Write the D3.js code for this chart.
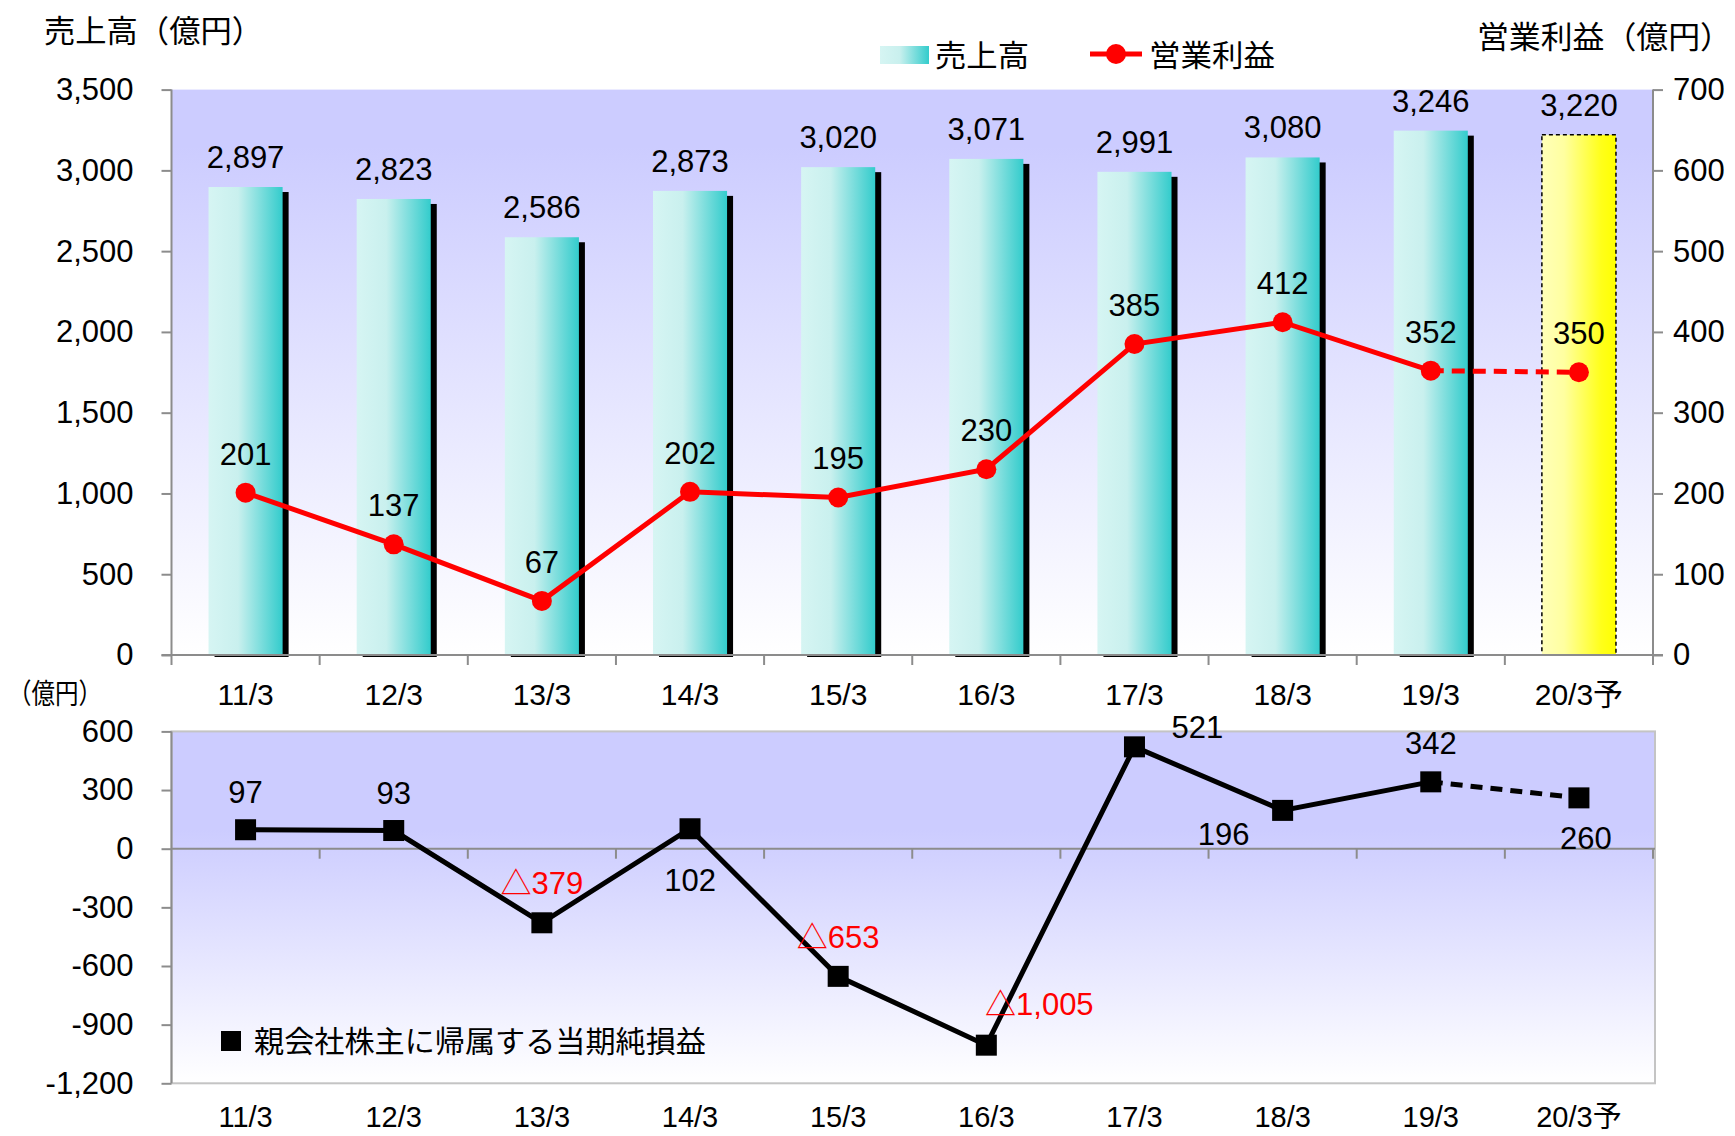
<!DOCTYPE html>
<html><head><meta charset="utf-8">
<script src="https://cdn.jsdelivr.net/npm/d3@7"></script>
<style>
html,body{margin:0;padding:0;background:#fff;}
svg{display:block;}
text{font-family:"Liberation Sans","Noto Sans CJK JP",sans-serif;fill:#000;}
.jp{font-family:"Noto Sans CJK JP","Liberation Sans",sans-serif;}
</style></head>
<body>
<svg id="chart" width="1735" height="1136"></svg>
<script>
// ---- data ----
const categories = ['11/3','12/3','13/3','14/3','15/3','16/3','17/3','18/3','19/3','20/3予'];
const sales      = [2897, 2823, 2586, 2873, 3020, 3071, 2991, 3080, 3246, 3220];
const opProfit   = [201, 137, 67, 202, 195, 230, 385, 412, 352, 350];
const netIncome  = [97, 93, -379, 102, -653, -1005, 521, 196, 342, 260];
const forecast   = [false,false,false,false,false,false,false,false,false,true];
const salesTicks = [0, 500, 1000, 1500, 2000, 2500, 3000, 3500];
const opTicks    = [0, 100, 200, 300, 400, 500, 600, 700];
const netTicks   = [-1200, -900, -600, -300, 0, 300, 600];

// layout for net-income labels (dx, dy baseline)
const netLabelOffsets = [[0,-27],[0,-27],[0,-29],[0,62],[0,-28],[53,-30],[63,-9],[-59,35],[0,-28],[7,51]];

const fmt = d3.formatLocale({decimal:".", thousands:",", grouping:[3], currency:["",""], minus:"-"}).format(",");

const svg = d3.select('#chart');
const defs = svg.append('defs');

function vgrad(id, stops){
  const g = defs.append('linearGradient').attr('id',id).attr('x1',0).attr('y1',0).attr('x2',0).attr('y2',1);
  stops.forEach(s=>g.append('stop').attr('offset',s[0]).attr('stop-color',s[1]));
}
function hgrad(id, stops){
  const g = defs.append('linearGradient').attr('id',id).attr('x1',0).attr('y1',0).attr('x2',1).attr('y2',0);
  stops.forEach(s=>g.append('stop').attr('offset',s[0]).attr('stop-color',s[1]));
}
vgrad('bgTop', [[0,'#ccccff'],[0.1,'#ccccff'],[1,'#ffffff']]);
vgrad('bgBot', [[0,'#ccccff'],[0.28,'#ccccff'],[1,'#ffffff']]);
hgrad('barG', [[0,'#d6f5f3'],[0.4,'#c9f0ee'],[1,'#33cccc']]);
hgrad('barY', [[0,'#ffffb8'],[0.3,'#ffffa0'],[0.8,'#ffff1a'],[1,'#ffff00']]);

const L = 171.5, R = 1653;
const topT = 89.6, topB = 655;
const botT = 731.4, botB = 1083.3, botR = 1655;
const axisColor = '#8c8c8c';

const x = d3.scaleBand().domain(categories).range([L, R]).paddingInner(0).paddingOuter(0);
const bw = x.bandwidth();
const cx = c => x(c) + bw/2;

const ySales = d3.scaleLinear().domain([0,3500]).range([topB, topT]);
const yOp    = d3.scaleLinear().domain([0,700]).range([topB, topT]);
const yNet   = d3.scaleLinear().domain([-1200,600]).range([botB, botT]);

// ---------- upper chart ----------
svg.append('rect').attr('x',L).attr('y',topT).attr('width',R-L).attr('height',topB-topT).attr('fill','url(#bgTop)');

const bars = svg.append('g');
categories.forEach((c,i)=>{
  const bx = x(c) + bw*0.25, w = bw*0.5, by = ySales(sales[i]);
  if(!forecast[i]){
    bars.append('rect').attr('x',bx+6).attr('y',by+5).attr('width',w).attr('height',topB-by-3).attr('fill','#000');
    bars.append('rect').attr('x',bx).attr('y',by).attr('width',w).attr('height',topB-by).attr('fill','url(#barG)');
  } else {
    bars.append('rect').attr('x',bx).attr('y',by).attr('width',w).attr('height',topB-by)
      .attr('fill','url(#barY)').attr('stroke','#000').attr('stroke-width',1.5).attr('stroke-dasharray','4,3');
  }
  bars.append('text').attr('x',cx(c)).attr('y',by-19).attr('text-anchor','middle').attr('font-size',31).text(fmt(sales[i]));
});

// axes upper
const gl = svg.append('g').attr('transform',`translate(${L},0)`)
  .call(d3.axisLeft(ySales).tickValues(salesTicks).tickFormat(fmt).tickSize(10).tickPadding(28));
const gr = svg.append('g').attr('transform',`translate(${R},0)`)
  .call(d3.axisRight(yOp).tickValues(opTicks).tickFormat(fmt).tickSize(10).tickPadding(10));
[gl,gr].forEach(g=>{
  g.select('.domain').attr('stroke',axisColor).attr('stroke-width',2).attr('d', `M0,${topT}V${topB}`);
  g.selectAll('.tick line').attr('stroke',axisColor).attr('stroke-width',2);
  g.selectAll('.tick text').attr('font-size',31).attr('font-family','Liberation Sans').attr('fill','#000');
});
// bottom axis upper
svg.append('line').attr('x1',L-10).attr('x2',R+10).attr('y1',topB).attr('y2',topB).attr('stroke',axisColor).attr('stroke-width',2);
const bounds = categories.map(c=>x(c)).concat([R]);
svg.append('g').selectAll('line').data(bounds).join('line')
  .attr('x1',d=>d).attr('x2',d=>d).attr('y1',topB).attr('y2',topB+10).attr('stroke',axisColor).attr('stroke-width',2);
svg.append('g').selectAll('text').data(categories).join('text')
  .attr('x',d=>cx(d)).attr('y',705).attr('text-anchor','middle').attr('font-size',30).text(d=>d);

// op profit line
const pts = categories.map((c,i)=>[cx(c), yOp(opProfit[i])]);
const line = d3.line();
svg.append('path').attr('d', line(pts.slice(0,9))).attr('fill','none').attr('stroke','#ff0000').attr('stroke-width',5);
svg.append('path').attr('d', line(pts.slice(8,10))).attr('fill','none').attr('stroke','#ff0000').attr('stroke-width',5).attr('stroke-dasharray','13,8');
svg.append('g').selectAll('circle').data(pts).join('circle')
  .attr('cx',d=>d[0]).attr('cy',d=>d[1]).attr('r',10).attr('fill','#ff0000');
svg.append('g').selectAll('text').data(pts).join('text')
  .attr('x',d=>d[0]).attr('y',d=>d[1]-28).attr('text-anchor','middle').attr('font-size',31)
  .text((d,i)=>fmt(opProfit[i]));

// titles & legend
svg.append('text').attr('class','jp').attr('x',44).attr('y',42).attr('font-size',31)
  .attr('textLength',219).attr('lengthAdjust','spacingAndGlyphs').text('売上高（億円）');
svg.append('text').attr('class','jp').attr('x',1477).attr('y',48).attr('font-size',31)
  .attr('textLength',255).attr('lengthAdjust','spacingAndGlyphs').text('営業利益（億円）');
svg.append('rect').attr('x',880).attr('y',46).attr('width',49).attr('height',18).attr('fill','url(#barG)');
svg.append('text').attr('class','jp').attr('x',935).attr('y',66).attr('font-size',30)
  .attr('textLength',94).attr('lengthAdjust','spacingAndGlyphs').text('売上高');
svg.append('line').attr('x1',1090).attr('x2',1142).attr('y1',54).attr('y2',54).attr('stroke','#ff0000').attr('stroke-width',5);
svg.append('circle').attr('cx',1116).attr('cy',54).attr('r',10).attr('fill','#ff0000');
svg.append('text').attr('class','jp').attr('x',1149).attr('y',66).attr('font-size',30)
  .attr('textLength',126).attr('lengthAdjust','spacingAndGlyphs').text('営業利益');

// ---------- lower chart ----------
svg.append('rect').attr('x',L).attr('y',botT).attr('width',botR-L).attr('height',botB-botT)
  .attr('fill','url(#bgBot)').attr('stroke','#c4c4c4').attr('stroke-width',2);
const gn = svg.append('g').attr('transform',`translate(${L},0)`)
  .call(d3.axisLeft(yNet).tickValues(netTicks).tickFormat(fmt).tickSize(10).tickPadding(28));
gn.select('.domain').attr('stroke',axisColor).attr('stroke-width',2).attr('d',`M0,${botT}V${botB}`);
gn.selectAll('.tick line').attr('stroke',axisColor).attr('stroke-width',2);
gn.selectAll('.tick text').attr('font-size',31).attr('font-family','Liberation Sans').attr('fill','#000');

const y0 = yNet(0);
svg.append('line').attr('x1',L).attr('x2',botR).attr('y1',y0).attr('y2',y0).attr('stroke',axisColor).attr('stroke-width',2);
svg.append('g').selectAll('line').data(bounds.slice(1)).join('line')
  .attr('x1',d=>d).attr('x2',d=>d).attr('y1',y0).attr('y2',y0+10).attr('stroke',axisColor).attr('stroke-width',2);

svg.append('text').attr('class','jp').attr('x',8).attr('y',704).attr('font-size',28)
  .attr('textLength',94).attr('lengthAdjust','spacingAndGlyphs').text('（億円）');

const npts = categories.map((c,i)=>[cx(c), yNet(netIncome[i])]);
svg.append('path').attr('d', line(npts.slice(0,9))).attr('fill','none').attr('stroke','#000').attr('stroke-width',5);
svg.append('path').attr('d', line(npts.slice(8,10))).attr('fill','none').attr('stroke','#000').attr('stroke-width',5).attr('stroke-dasharray','12,8');
svg.append('g').selectAll('rect').data(npts).join('rect')
  .attr('x',d=>d[0]-10.5).attr('y',d=>d[1]-10.5).attr('width',21).attr('height',21).attr('fill','#000');
svg.append('g').selectAll('text').data(npts).join('text')
  .attr('x',(d,i)=>d[0]+netLabelOffsets[i][0]).attr('y',(d,i)=>d[1]+netLabelOffsets[i][1])
  .attr('text-anchor','middle').attr('font-size',31)
  .attr('fill',(d,i)=>netIncome[i]<0?'#ff0000':'#000')
  .style('fill',(d,i)=>netIncome[i]<0?'#ff0000':'#000')
  .text((d,i)=>netIncome[i]<0 ? '△'+fmt(-netIncome[i]) : fmt(netIncome[i]));

svg.append('g').selectAll('text').data(categories).join('text')
  .attr('x',d=>cx(d)).attr('y',1127).attr('text-anchor','middle').attr('font-size',29).text(d=>d);

// legend lower
svg.append('rect').attr('x',221).attr('y',1031).attr('width',20).attr('height',20).attr('fill','#000');
svg.append('text').attr('class','jp').attr('x',254).attr('y',1052).attr('font-size',30)
  .attr('textLength',452).attr('lengthAdjust','spacingAndGlyphs').text('親会社株主に帰属する当期純損益');
</script>
</body></html>
